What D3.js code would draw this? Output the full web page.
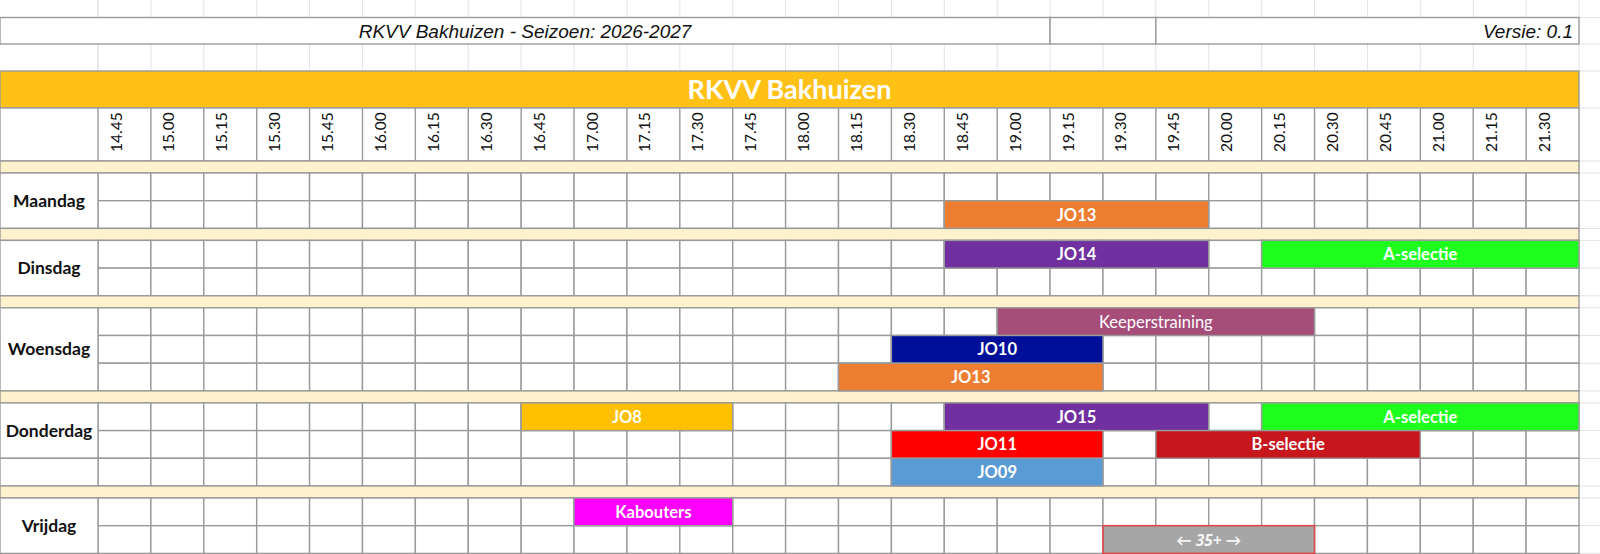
<!DOCTYPE html>
<html><head><meta charset="utf-8">
<script src="https://cdn.jsdelivr.net/npm/d3@7"></script>
<style>html,body{margin:0;padding:0;background:#fff;overflow:hidden}</style>
</head><body><svg id="c" width="1600" height="554"></svg>
<script>
// ---------- data ----------
const timeSlots = ["14.45","15.00","15.15","15.30","15.45","16.00","16.15","16.30","16.45","17.00","17.15","17.30","17.45","18.00","18.15","18.30","18.45","19.00","19.15","19.30","19.45","20.00","20.15","20.30","20.45","21.00","21.15","21.30"];
const days = ["Maandag","Dinsdag","Woensdag","Donderdag","Vrijdag"];
const dayRowCounts = [2,2,3,3,2];
const activityNames = ["JO13","JO14","A-selectie","Keeperstraining","JO10","JO13","JO8","JO15","A-selectie","JO11","B-selectie","JO09","Kabouters","← 35+ →"];
const activityDays  = ["Maandag","Dinsdag","Dinsdag","Woensdag","Woensdag","Woensdag","Donderdag","Donderdag","Donderdag","Donderdag","Donderdag","Donderdag","Vrijdag","Vrijdag"];
const activityRows  = [1,0,0,0,1,2,0,0,0,1,1,2,0,1];
const activityFirstSlot = ["18.45","18.45","20.15","19.00","18.30","18.15","16.45","18.45","20.15","18.30","19.45","18.30","17.00","19.30"];
const activityLastSlot  = ["19.45","19.45","21.30","20.15","19.15","19.15","17.30","19.45","21.30","19.15","20.45","19.15","17.30","20.15"];
const teams = ["JO13","JO14","A-selectie","Keeperstraining","JO10","JO8","JO15","JO11","B-selectie","JO09","Kabouters","← 35+ →"];
const teamColors = ["#ED7D31","#7030A0","#1EFF1E","#A64D79","#000F99","#FFC000","#7030A0","#FF0000","#C8161D","#5B9BD5","#FF00FF","#A6A6A6"];
const titleText = "RKVV Bakhuizen - Seizoen: 2026-2027";
const versionText = "Versie: 0.1";
const headerText = "RKVV Bakhuizen";

// ---------- layout ----------
const W = 1600, H = 554;
const labelW = 98, gridRight = 1579;
const rowH = 27.7, sepH = 12;
const yTitleTop = 17.5, yTitleBot = 44, yBandTop = 71, yBandBot = 108, yHeadBot = 161;
const gridCol = "#9a9a9a", lightCol = "#e3e3e3", sw = 1.4;
const sansFont = "Lato, 'Open Sans', sans-serif";

const svg = d3.select("#c");
const x = d3.scaleBand().domain(timeSlots).range([labelW, gridRight]).padding(0);
const color = d3.scaleOrdinal().domain(teams).range(teamColors);

// day blocks
let cursor = yHeadBot;
const dayBlocks = days.map((d,i) => {
  const sepTop = cursor; cursor += sepH;
  const top = cursor; cursor += dayRowCounts[i]*rowH;
  const yb = d3.scaleBand().domain(d3.range(dayRowCounts[i])).range([top, cursor]).padding(0);
  return {day:d, sepTop, top, bottom:cursor, n:dayRowCounts[i], y:yb};
});
const dayMap = new Map(dayBlocks.map(b => [b.day, b]));

const colEdges = timeSlots.map(t => x(t)).concat([gridRight]);

// light spreadsheet gridlines
const light = svg.append("g").attr("stroke", lightCol).attr("stroke-width", 1);
[[0, yTitleTop],[yTitleBot, yBandTop]].forEach(([a,b]) => {
  [labelW, ...colEdges].forEach(xx => light.append("line").attr("x1", xx).attr("x2", xx).attr("y1", a).attr("y2", b));
});
const hLight = [yTitleTop, yTitleBot, yBandTop, yBandBot, yHeadBot];
dayBlocks.forEach(b => { hLight.push(b.top); b.y.domain().forEach(r => hLight.push(b.y(r)+rowH)); });
hLight.forEach(yy => light.append("line").attr("x1", gridRight).attr("x2", W).attr("y1", yy).attr("y2", yy));

// title row boxes
const g = svg.append("g");
const boxes = [[0, x("19.15")],[x("19.15"), x("19.45")],[x("19.45"), gridRight]];
boxes.forEach(([a,b]) => g.append("rect").attr("x", a).attr("y", yTitleTop).attr("width", b-a).attr("height", yTitleBot-yTitleTop)
  .attr("fill", "#fff").attr("stroke", gridCol).attr("stroke-width", sw));
g.append("text").attr("x", x("19.15")/2).attr("y", 37.5).attr("text-anchor", "middle")
  .attr("font-family", "'Liberation Sans', Arial, sans-serif").attr("font-style", "italic").attr("font-size", 19)
  .attr("fill", "#111").text(titleText);
g.append("text").attr("x", gridRight-6).attr("y", 37.5).attr("text-anchor", "end")
  .attr("font-family", "'Liberation Sans', Arial, sans-serif").attr("font-style", "italic").attr("font-size", 19)
  .attr("fill", "#111").text(versionText);

// orange header band
g.append("rect").attr("x", 0).attr("y", yBandTop).attr("width", gridRight).attr("height", yBandBot-yBandTop)
  .attr("fill", "#FFC116").attr("stroke", gridCol).attr("stroke-width", sw);
g.append("text").attr("x", gridRight/2).attr("y", (yBandTop+yBandBot)/2 + 9.5).attr("text-anchor", "middle")
  .attr("font-family", sansFont).attr("font-weight", "bold").attr("font-size", 27).attr("fill", "#fff").text(headerText);

// time header row
g.append("rect").attr("x", 0).attr("y", yBandBot).attr("width", gridRight).attr("height", yHeadBot-yBandBot)
  .attr("fill", "#fff").attr("stroke", gridCol).attr("stroke-width", sw);
g.selectAll(".vh").data(timeSlots).enter().append("line")
  .attr("x1", d => x(d)).attr("x2", d => x(d)).attr("y1", yBandBot).attr("y2", yHeadBot)
  .attr("stroke", gridCol).attr("stroke-width", sw);
g.selectAll(".tl").data(timeSlots).enter().append("text")
  .attr("transform", d => `translate(${x(d)+23.5},${yHeadBot-9}) rotate(-90)`)
  .attr("font-family", sansFont).attr("font-size", 15.5).attr("fill", "#111").text(d => d);

// day blocks
dayBlocks.forEach(b => {
  g.append("rect").attr("x", 0).attr("y", b.sepTop).attr("width", gridRight).attr("height", sepH)
    .attr("fill", "#FFF2CC").attr("stroke", gridCol).attr("stroke-width", sw);
  b.y.domain().forEach(r => {
    timeSlots.forEach(t => {
      g.append("rect").attr("x", x(t)).attr("y", b.y(r)).attr("width", x.bandwidth()).attr("height", b.y.bandwidth())
        .attr("fill", "#fff").attr("stroke", gridCol).attr("stroke-width", sw);
    });
  });
  const labelRows = b.day === "Donderdag" ? 2 : b.n;
  g.append("rect").attr("x", 0).attr("y", b.top).attr("width", labelW).attr("height", labelRows*rowH)
    .attr("fill", "#fff").attr("stroke", gridCol).attr("stroke-width", sw);
  if (labelRows < b.n) {
    g.append("rect").attr("x", 0).attr("y", b.top + labelRows*rowH).attr("width", labelW).attr("height", (b.n-labelRows)*rowH)
      .attr("fill", "#fff").attr("stroke", gridCol).attr("stroke-width", sw);
  }
  g.append("text").attr("x", labelW/2).attr("y", b.top + labelRows*rowH/2 + 6).attr("text-anchor", "middle")
    .attr("font-family", sansFont).attr("font-weight", "bold").attr("font-size", 17.5).attr("fill", "#111").text(b.day);
});

// activities
const acts = activityNames.map((n,i) => ({name:n, day:activityDays[i], row:activityRows[i], a:activityFirstSlot[i], b:activityLastSlot[i]}));
const ag = svg.append("g");
acts.forEach(d => {
  const blk = dayMap.get(d.day);
  const x0 = x(d.a), x1 = x(d.b) + x.bandwidth();
  const y0 = blk.y(d.row), hh = blk.y.bandwidth();
  const is35 = d.name.includes("35+");
  ag.append("rect").attr("x", x0).attr("y", y0).attr("width", x1-x0).attr("height", hh)
    .attr("fill", color(d.name)).attr("stroke", is35 ? "#E0474C" : gridCol).attr("stroke-width", is35 ? 1.6 : sw);
  ag.append("text").attr("x", (x0+x1)/2).attr("y", y0 + hh/2 + 6).attr("text-anchor", "middle")
    .attr("font-family", is35 ? "'Open Sans', Lato, sans-serif" : sansFont)
    .attr("font-weight", d.name === "Keeperstraining" ? "normal" : "bold")
    .attr("font-style", is35 ? "italic" : "normal")
    .attr("font-size", is35 ? 15.5 : 16.5).attr("fill", is35 ? "#F4F4F4" : "#fff").text(d.name);
});
</script>
</body></html>
